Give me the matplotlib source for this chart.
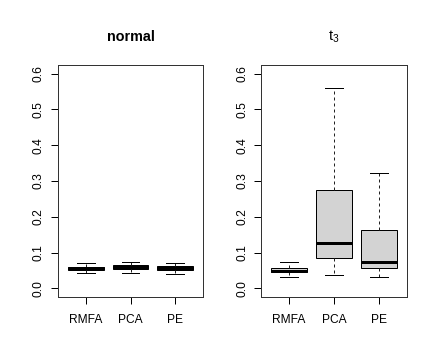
import matplotlib
matplotlib.use("Agg")
import matplotlib.pyplot as plt

plt.rcParams['font.family'] = ['Liberation Sans', 'DejaVu Sans']

methods = ["RMFA", "PCA", "PE"]

# five-number summaries
normal_lo = [0.042, 0.042, 0.041]
normal_q1 = [0.052, 0.053, 0.051]
normal_med = [0.057, 0.059, 0.057]
normal_q3 = [0.061, 0.064, 0.062]
normal_hi = [0.070, 0.075, 0.072]

t3_lo = [0.031, 0.038, 0.033]
t3_q1 = [0.045, 0.086, 0.057]
t3_med = [0.050, 0.126, 0.075]
t3_q3 = [0.056, 0.274, 0.164]
t3_hi = [0.073, 0.559, 0.321]


def make_stats(lo, q1, med, q3, hi):
    return [dict(label=m, whislo=a, q1=b, med=c, q3=d, whishi=e, fliers=[])
            for m, a, b, c, d, e in zip(methods, lo, q1, med, q3, hi)]


def draw_panel(ax, stats):
    ax.bxp(stats, positions=[1, 2, 3], widths=0.8, patch_artist=True,
           boxprops=dict(facecolor="#d3d3d3", edgecolor="black", linewidth=1),
           medianprops=dict(color="black", linewidth=3, solid_capstyle="butt"),
           whiskerprops=dict(color="#222222", linewidth=1, linestyle=(0, (3, 3))),
           capprops=dict(color="black", linewidth=1),
           capwidths=0.4)
    ax.set_xlim(0.38, 3.62)
    ax.set_ylim(-0.024, 0.624)
    ax.set_yticks([0.0, 0.1, 0.2, 0.3, 0.4, 0.5, 0.6])
    ax.set_yticklabels(["0.0", "0.1", "0.2", "0.3", "0.4", "0.5", "0.6"],
                       rotation=90, va="center")
    ax.set_xticks([1, 2, 3])
    ax.set_xticklabels(methods)
    ax.tick_params(axis="both", direction="out", length=7, width=1,
                   labelsize=12, colors="black")
    ax.tick_params(axis="y", pad=6)
    ax.tick_params(axis="x", pad=10)
    for s in ax.spines.values():
        s.set_linewidth(1)
        s.set_color("#333333")
    return ax


fig = plt.figure(figsize=(436 / 72, 363 / 72), dpi=72)
ax1 = fig.add_axes([58 / 436, 66 / 363, 145 / 436, 232 / 363])
ax2 = fig.add_axes([261 / 436, 66 / 363, 146 / 436, 232 / 363])

draw_panel(ax1, make_stats(normal_lo, normal_q1, normal_med, normal_q3, normal_hi))
ax1.set_title("normal", fontsize=14.4, fontweight="bold", pad=24)

draw_panel(ax2, make_stats(t3_lo, t3_q1, t3_med, t3_q3, t3_hi))
ax2.set_title(r"$\mathregular{t_3}$", fontsize=14.4, pad=24)

fig.savefig("out.png", dpi=72)
